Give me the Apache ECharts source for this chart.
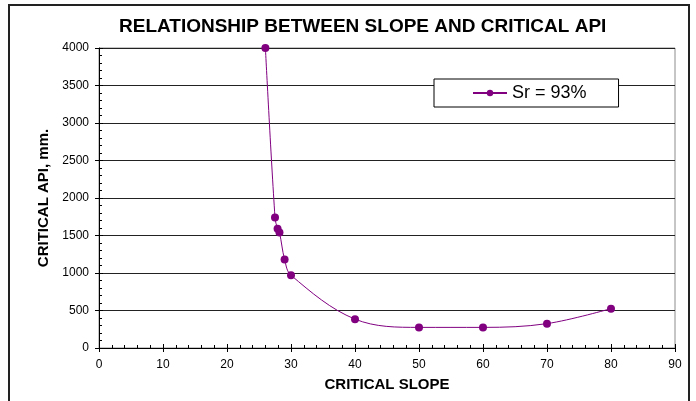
<!DOCTYPE html>
<html>
<head>
<meta charset="utf-8">
<script src="https://cdn.jsdelivr.net/npm/echarts@6/dist/echarts.min.js"></script>
<style>
html,body{margin:0;padding:0;background:#fff;}
#c{width:696px;height:401px;}
</style>
</head>
<body>
<div id="c"></div>
<script>
const titleText = 'RELATIONSHIP BETWEEN SLOPE AND CRITICAL API';
const xName = 'CRITICAL SLOPE';
const yName = 'CRITICAL API, mm.';
const seriesName = 'Sr = 93%';
const slopes = [26, 27.5, 27.9, 28.2, 29, 30, 40, 50, 60, 70, 80];
const apis = [4000, 1740, 1590, 1540, 1180, 970, 385, 275, 275, 325, 525];
const xMin = 0, xMax = 90, xStep = 10;
const yMin = 0, yMax = 4000, yStep = 500;

const chart = echarts.init(document.getElementById('c'), null, {renderer: 'canvas'});
const font = 'Liberation Sans, Arial, sans-serif';
const grid = {left: 99, right: 21, top: 48, bottom: 53};
const baseX = {type: 'value', min: xMin, max: xMax, interval: xStep, gridIndex: 0};
const baseY = {type: 'value', min: yMin, max: yMax, interval: yStep, gridIndex: 0};

chart.setOption({
  animation: false,
  backgroundColor: '#fff',
  textStyle: {fontFamily: font},
  title: {
    text: titleText, left: 114, top: 12,
    textStyle: {fontSize: 19, fontWeight: 'bold', color: '#000', fontFamily: font}
  },
  graphic: [{
    type: 'rect', shape: {x: 9, y: 5, width: 680, height: 400},
    style: {fill: 'none', stroke: '#222', lineWidth: 2}, silent: true, z: 100
  }],
  grid: Object.assign({show: true, borderColor: '#8c8c8c', borderWidth: 1, backgroundColor: '#fff'}, grid),
  legend: {
    left: 434, top: 79, padding: [5, 32, 5, 38],
    borderColor: '#000', borderWidth: 1, backgroundColor: '#fff',
    itemWidth: 34, itemHeight: 8, itemGap: 4,
    textStyle: {fontSize: 18, color: '#000', fontFamily: font, padding: [0, 0, 0, 0]},
    data: [seriesName]
  },
  xAxis: [
    Object.assign({}, baseX, {
      position: 'bottom',
      name: xName, nameLocation: 'middle', nameGap: 29,
      nameTextStyle: {fontSize: 15, fontWeight: 'bold', color: '#000', fontFamily: font},
      axisLine: {show: true, lineStyle: {color: '#000', width: 1}},
      axisTick: {show: true, inside: false, length: 4, lineStyle: {color: '#000'}},
      axisLabel: {fontSize: 12, color: '#000', margin: 11, fontFamily: font},
      splitLine: {show: false}
    }),
    Object.assign({}, baseX, {
      position: 'bottom',
      axisLine: {show: false},
      axisTick: {show: true, inside: true, length: 4, lineStyle: {color: '#000'}},
      minorTick: {show: true, splitNumber: 5, length: 3, lineStyle: {color: '#000'}},
      axisLabel: {show: false},
      splitLine: {show: false}
    })
  ],
  yAxis: [
    Object.assign({}, baseY, {
      position: 'left',
      name: yName, nameLocation: 'middle', nameGap: 47,
      nameTextStyle: {fontSize: 15, fontWeight: 'bold', color: '#000', fontFamily: font},
      axisLine: {show: true, lineStyle: {color: '#000', width: 1}},
      axisTick: {show: true, inside: false, length: 4, lineStyle: {color: '#000'}},
      axisLabel: {fontSize: 12, color: '#000', margin: 10, fontFamily: font, formatter: v => String(v)},
      splitLine: {show: true, lineStyle: {color: '#222', width: 1}}
    }),
    Object.assign({}, baseY, {
      position: 'left',
      axisLine: {show: false},
      axisTick: {show: true, inside: true, length: 4, lineStyle: {color: '#000'}},
      minorTick: {show: true, splitNumber: 5, length: 3, lineStyle: {color: '#000'}},
      axisLabel: {show: false},
      splitLine: {show: false}
    })
  ],
  series: [{
    name: seriesName, type: 'line', xAxisIndex: 0, yAxisIndex: 0,
    data: slopes.map((s, i) => [s, apis[i]]),
    smooth: 0.35,
    symbol: 'circle', symbolSize: 8,
    lineStyle: {color: '#800080', width: 1},
    itemStyle: {color: '#800080'},
    z: 10
  }]
});
</script>
</body>
</html>
